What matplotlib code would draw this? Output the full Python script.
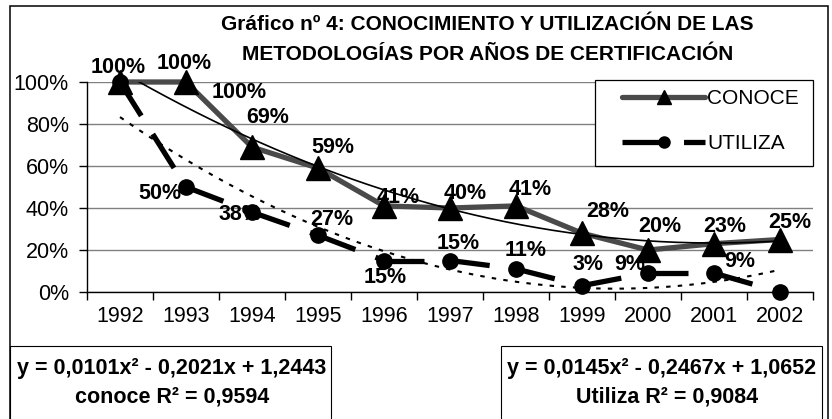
import numpy as np
import matplotlib.pyplot as plt
from matplotlib.lines import Line2D
from matplotlib.patches import Rectangle

plt.rcParams['font.family'] = ['Liberation Sans', 'DejaVu Sans']
plt.rcParams['lines.scale_dashes'] = False

# datos
years = ['1992', '1993', '1994', '1995', '1996', '1997', '1998', '1999', '2000', '2001', '2002']
conoce = [1.00, 1.00, 0.69, 0.59, 0.41, 0.40, 0.41, 0.28, 0.20, 0.23, 0.25]
utiliza = [1.00, 0.50, 0.38, 0.27, 0.15, 0.15, 0.11, 0.03, 0.09, 0.09, 0.00]

# coeficientes de las líneas de tendencia (polinómica de grado 2)
coef_conoce = [0.0101, -0.2021, 1.2443]
coef_utiliza = [0.0145, -0.2467, 1.0652]
r2_conoce = '0,9594'
r2_utiliza = '0,9084'

# etiquetas de datos tal y como aparecen en el gráfico
label_text = ['100%', '100%', '100%', '69%', '59%', '41%', '40%', '41%', '28%', '20%', '23%', '25%',
              '50%', '38%', '27%', '15%', '15%', '11%', '3%', '9%', '9%']
label_x = [0.97, 1.98, 2.80, 3.24, 4.23, 5.21, 6.23, 7.21, 8.39, 9.18, 10.17, 11.15,
           1.61, 2.82, 4.21, 5.02, 6.12, 7.14, 8.09, 8.73, 10.39]
label_y = [1.067, 1.09, 0.952, 0.829, 0.69, 0.452, 0.471, 0.486, 0.381, 0.31, 0.31, 0.329,
           0.471, 0.367, 0.343, 0.067, 0.233, 0.20, 0.129, 0.129, 0.143]

W, H = 832, 419
gray = '#4a4a4a'
fs = 15.5

fig = plt.figure(figsize=(W / 100, H / 100), dpi=100)


def fx(px):
    return px / W


def fy(py):
    return 1 - py / H


# marco exterior y cajas de las ecuaciones
fig.patches.append(Rectangle((fx(10), fy(430)), fx(828) - fx(10), fy(6) - fy(430),
                             transform=fig.transFigure, fill=False, lw=1.1, ec='k'))
fig.patches.append(Rectangle((fx(10), fy(430)), fx(331) - fx(10), fy(346) - fy(430),
                             transform=fig.transFigure, fill=False, lw=0.8, ec='k'))
fig.patches.append(Rectangle((fx(501), fy(430)), fx(822) - fx(501), fy(346) - fy(430),
                             transform=fig.transFigure, fill=False, lw=0.8, ec='k'))

ax = fig.add_axes([fx(87), fy(292), fx(813) - fx(87), fy(82) - fy(292)])
x = np.arange(1, len(years) + 1)

ax.set_xlim(0.5, len(years) + 0.5)
ax.set_ylim(0, 1)
ax.set_yticks(np.arange(0, 1.01, 0.2))
ax.set_yticklabels([f'{int(round(v * 100))}%' for v in np.arange(0, 1.01, 0.2)], fontsize=fs)
ax.set_xticks(x)
ax.set_xticklabels(years, fontsize=fs)
ax.set_xticks(np.arange(0.5, len(years) + 1), minor=True)
ax.tick_params(axis='x', which='major', length=0, pad=10)
ax.tick_params(axis='x', which='minor', length=6, direction='out', width=1)
ax.tick_params(axis='y', length=6, direction='out', width=1, pad=7)
ax.grid(axis='y', color='#808080', lw=1)
ax.set_axisbelow(True)
for s in ['top', 'right']:
    ax.spines[s].set_visible(False)
ax.spines['left'].set_linewidth(1)
ax.spines['bottom'].set_linewidth(1)

# UTILIZA: línea discontinua, el patrón empieza de nuevo en cada tramo
for i in range(len(years) - 1):
    ax.plot(x[i:i + 2], utiliza[i:i + 2], color='k', lw=3.8, dashes=(28.8, 15.5),
            dash_capstyle='butt', zorder=3, clip_on=False)
# CONOCE
ax.plot(x, conoce, color=gray, lw=3.8, zorder=3, clip_on=False, solid_joinstyle='round')

# tendencias
xs = np.linspace(1, len(years), 300)
ax.plot(xs, np.polyval(coef_conoce, xs), color='k', lw=1.2, zorder=4)
ax.plot(xs, np.polyval(coef_utiliza, xs), color='k', lw=1.5, dashes=(3.2, 5.2), zorder=4)

# etiquetas
for t, lx, ly in zip(label_text, label_x, label_y):
    ax.text(lx, ly, t, ha='center', va='center', fontsize=fs, fontweight='bold',
            zorder=4.5, clip_on=False)

# marcadores
ax.plot(x, utiliza, ls='none', marker='o', ms=11, color='k', zorder=5, clip_on=False)
ax.plot(x, conoce, ls='none', marker='^', ms=17, color='k', zorder=6, clip_on=False)

# leyenda (marco dibujado aparte)
fig.patches.append(Rectangle((fx(595), fy(166)), fx(813) - fx(595), fy(80) - fy(166),
                             transform=fig.transFigure, fc='white', lw=0.9, ec='k',
                             zorder=10))
h1 = Line2D([], [], color=gray, lw=3.8, marker='^', ms=10, mfc='k', mec='k',
            solid_capstyle='round')
h2 = Line2D([], [], color='k', lw=3.8, dashes=(28.8, 15.5), marker='o', ms=8,
            mfc='k', mec='k')
leg = fig.legend([h1, h2], ['CONOCE', 'UTILIZA'], loc='upper left',
                 bbox_to_anchor=(fx(622), fy(89)), fontsize=15, frameon=False,
                 handlelength=83 / (15 * 100 / 72), handletextpad=0.12,
                 labelspacing=1.25, borderpad=0, borderaxespad=0)
leg.set_zorder(11)

# título
fig.text(fx(487), fy(25), 'Gráfico nº 4: CONOCIMIENTO Y UTILIZACIÓN DE LAS',
         ha='center', va='center', fontsize=15, fontweight='bold')
fig.text(fx(488), fy(55), 'METODOLOGÍAS POR AÑOS DE CERTIFICACIÓN',
         ha='center', va='center', fontsize=15, fontweight='bold')

# ecuaciones
def eq_text(c):
    return f'y = {c[0]:.4f}x² - {-c[1]:.4f}x + {c[2]:.4f}'.replace('.', ',')


fig.text(fx(172), fy(368), eq_text(coef_conoce), ha='center', va='center',
         fontsize=fs, fontweight='bold')
fig.text(fx(172), fy(397), f'conoce R² = {r2_conoce}', ha='center', va='center',
         fontsize=fs, fontweight='bold')
fig.text(fx(662), fy(368), eq_text(coef_utiliza), ha='center', va='center',
         fontsize=fs, fontweight='bold')
fig.text(fx(667), fy(397), f'Utiliza R² = {r2_utiliza}', ha='center', va='center',
         fontsize=fs, fontweight='bold')

fig.savefig('out.png', dpi=100)
